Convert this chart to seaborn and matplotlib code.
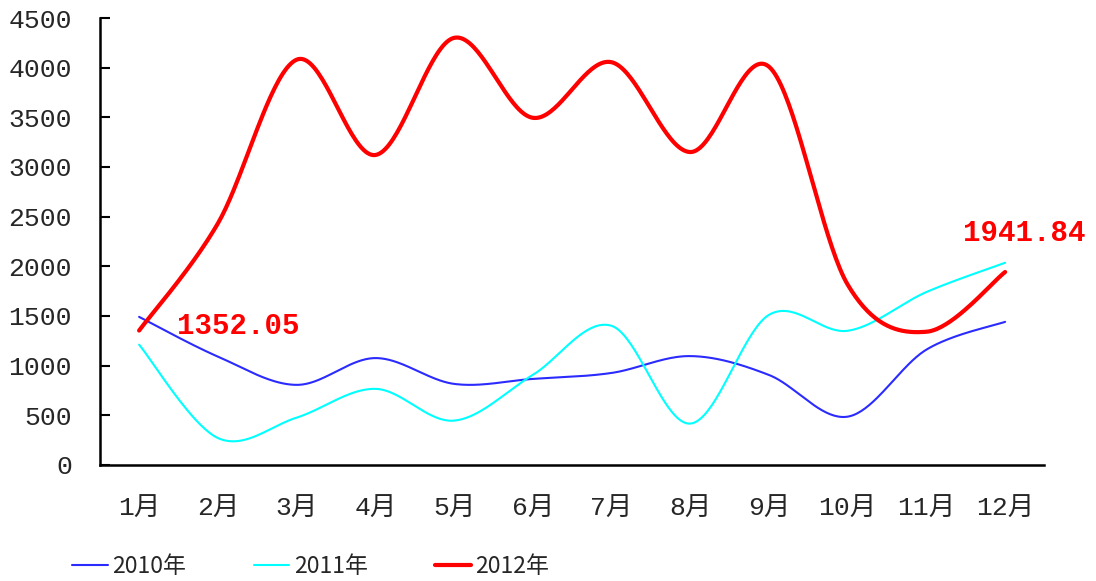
import numpy as np
import pandas as pd
import seaborn as sns
import matplotlib
matplotlib.use('Agg')
import matplotlib.pyplot as plt
from matplotlib.ticker import MultipleLocator, FixedLocator

months = ['1月', '2月', '3月', '4月', '5月', '6月', '7月', '8月', '9月', '10月', '11月', '12月']
y2010 = [1490, 1090, 805, 1075, 815, 865, 925, 1095, 905, 485, 1160, 1440]
y2011 = [1210, 270, 475, 765, 445, 905, 1400, 415, 1510, 1350, 1740, 2035]
y2012 = [1352.05, 2430, 4080, 3120, 4300, 3495, 4055, 3150, 4010, 1815, 1340, 1941.84]


def smooth(xs, ys, n=40):
    '''
    Catmull-Rom style bezier smoothing, like the Excel "smoothed line" option
    '''
    p = np.column_stack([xs, ys]).astype(float)
    p = np.vstack([p[0], p, p[-1]])
    out = []
    for i in range(1, len(p) - 2):
        p0, p1, p2, p3 = p[i - 1], p[i], p[i + 1], p[i + 2]
        c1 = p1 + (p2 - p0) / 6.0
        c2 = p2 - (p3 - p1) / 6.0
        t = np.linspace(0, 1, n, endpoint=(i == len(p) - 3))[:, None]
        seg = (1 - t) ** 3 * p1 + 3 * (1 - t) ** 2 * t * c1 + 3 * (1 - t) * t ** 2 * c2 + t ** 3 * p2
        out.append(seg)
    out = np.vstack(out)
    return out[:, 0], out[:, 1]


sns.set_style('white')
plt.rcParams['font.family'] = ['Liberation Mono', 'Noto Sans CJK SC']

fig = plt.figure(figsize=(10.96, 5.81), dpi=100)
ax = fig.add_axes([0.091, 0.2, 0.862, 0.769])

x = np.arange(len(months))
series = [('2010年', y2010, '#2b2bff', 1.5),
          ('2011年', y2011, '#00ffff', 1.5),
          ('2012年', y2012, '#ff0000', 3.0)]
for name, vals, col, lw in series:
    sx, sy = smooth(x, vals)
    df = pd.DataFrame({'x': sx, 'y': sy})
    sns.lineplot(data=df, x='x', y='y', sort=False, estimator=None,
                 color=col, lw=lw, label=name, ax=ax, legend=False)

ax.annotate('1352.05', xy=(x[0], y2012[0]), xytext=(27, 3), textcoords='offset points',
            color='#ff0000', fontsize=21, fontweight='bold', va='center', ha='left')
ax.annotate('1941.84', xy=(x[-1], y2012[-1]), xytext=(-30, 28), textcoords='offset points',
            color='#ff0000', fontsize=21, fontweight='bold', va='center', ha='left')

ax.set_xlim(-0.5, 11.5)
ax.set_ylim(0, 4500)
ax.yaxis.set_major_locator(MultipleLocator(500))
ax.set_xticks(x)
ax.set_xticklabels(months)
ax.xaxis.set_minor_locator(FixedLocator(np.arange(-0.5, 12, 1)))
ax.tick_params(axis='x', which='major', length=0, pad=23, labelsize=19)
ax.tick_params(axis='x', which='minor', direction='in', length=7, width=1.5, color='black')
ax.tick_params(axis='y', direction='in', length=7, width=1.5, color='black', pad=20, labelsize=19,
               left=True)
ax.set_xlabel('')
ax.set_ylabel('')
for s in ['top', 'right']:
    ax.spines[s].set_visible(False)
for s in ['left', 'bottom']:
    ax.spines[s].set_color('black')
    ax.spines[s].set_linewidth(1.8)

handles, labels = ax.get_legend_handles_labels()
fig.legend(handles, labels, loc='lower left', bbox_to_anchor=(0.047, -0.03), ncol=3,
           frameon=False, handlelength=1.55, handletextpad=0.2, columnspacing=2.95,
           prop={'family': ['Liberation Sans Narrow', 'Noto Sans CJK SC'], 'size': 16.5})

fig.savefig('out.png', dpi=100, facecolor='white')
